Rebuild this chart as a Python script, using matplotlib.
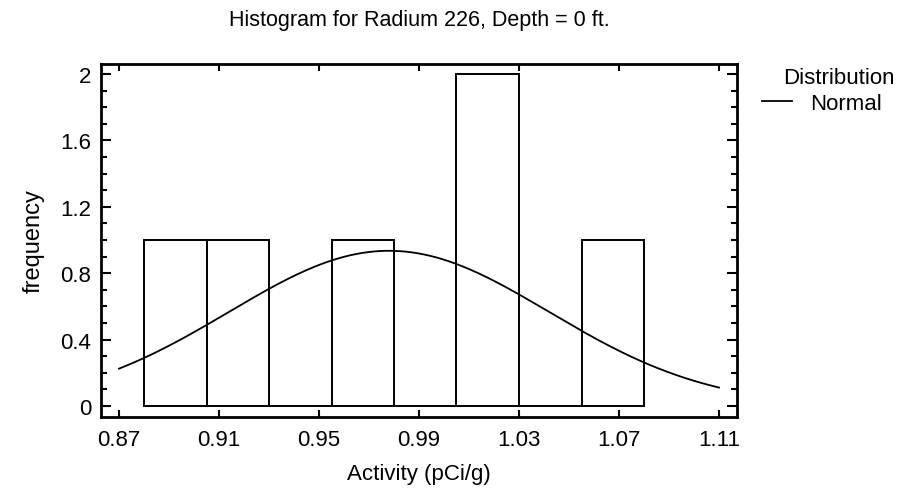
import numpy as np
import matplotlib
matplotlib.use("Agg")
import matplotlib.pyplot as plt
from matplotlib.ticker import MultipleLocator, FixedLocator

plt.rcParams['font.family'] = ['Liberation Sans', 'DejaVu Sans']

# Histogram data
bin_edges = [0.88, 0.905, 0.93, 0.955, 0.98, 1.005, 1.03, 1.055, 1.08]
counts = [1, 1, 0, 1, 0, 2, 0, 1]

# Fitted normal distribution (parameters of the overlaid curve)
n_obs = 6
mu = 0.978
sigma = 0.064
curve_range = [0.87, 1.11]

x_ticks = [0.87, 0.91, 0.95, 0.99, 1.03, 1.07, 1.11]
y_ticks = [0, 0.4, 0.8, 1.2, 1.6, 2.0]
y_tick_labels = ["0", "0.4", "0.8", "1.2", "1.6", "2"]

W, H = 899, 489
fig = plt.figure(figsize=(W / 100, H / 100), dpi=100)
ax = fig.add_axes([101 / W, 1 - 418 / H, (737 - 101) / W, (418 - 65) / H])

edges = np.array(bin_edges)
widths = np.diff(edges)
ax.bar(edges[:-1], counts, width=widths, align='edge', facecolor='white',
       edgecolor='black', linewidth=1.4, zorder=2)

bw = widths.mean()
xc = np.linspace(curve_range[0], curve_range[1], 200)
yc = n_obs * bw * np.exp(-0.5 * ((xc - mu) / sigma) ** 2) / (sigma * np.sqrt(2 * np.pi))
ax.plot(xc, yc, color='black', linewidth=1.3, zorder=3, label='Normal')

ax.set_xlim(0.8628, 1.1172)
ax.set_ylim(-0.066, 2.06)
ax.xaxis.set_major_locator(FixedLocator(x_ticks))
ax.set_xticklabels([f"{v:.2f}" for v in x_ticks])
ax.yaxis.set_major_locator(FixedLocator(y_ticks))
ax.set_yticklabels(y_tick_labels)
ax.yaxis.set_minor_locator(MultipleLocator(0.1))

FS = 16
ax.tick_params(axis='both', which='both', direction='in', top=True, right=True,
               labelsize=FS, width=1.5, color='black')
ax.tick_params(axis='y', which='major', length=7, pad=7)
ax.tick_params(axis='y', which='minor', length=4)
ax.tick_params(axis='x', which='major', length=5, pad=9)
for s in ax.spines.values():
    s.set_linewidth(2)

ax.set_xlabel("Activity (pCi/g)", fontsize=FS, labelpad=9)
ax.set_ylabel("frequency", fontsize=FS + 1, labelpad=11)
ax.set_title("Histogram for Radium 226, Depth = 0 ft.", fontsize=15.5, pad=28)

ax.legend(loc='center left', bbox_to_anchor=(762 / W, 1 - 104 / H),
          bbox_transform=fig.transFigure, frameon=False, fontsize=FS,
          borderpad=0, borderaxespad=0, handlelength=1.35, handletextpad=0.8)
fig.text(895 / W, 1 - 78 / H, "Distribution", ha='right', va='center', fontsize=FS)

fig.savefig("out.png", dpi=100)
